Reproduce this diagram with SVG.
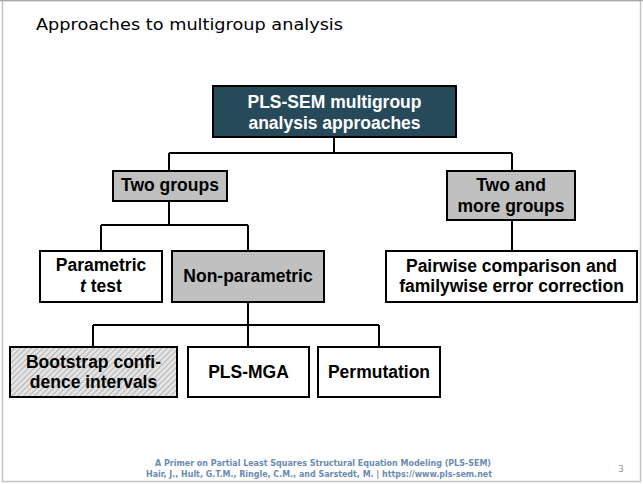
<svg xmlns="http://www.w3.org/2000/svg" width="643" height="484" viewBox="0 0 643 484">
<style>
.box{stroke:#000;stroke-width:2}
.white{fill:#fff}
.gray{fill:#c0c0c0}
.t{font-family:"Liberation Sans",Arial,sans-serif;font-weight:bold;font-size:17.5px;text-anchor:middle;fill:#000}
.w{fill:#fff}
.conn{fill:none;stroke:#000;stroke-width:2}
.foot{font-family:"DejaVu Sans",Verdana,sans-serif;font-weight:bold;font-size:8px;fill:#6a8bb0;text-anchor:middle}
</style>
<defs>
<pattern id="hatch" width="4" height="4" patternUnits="userSpaceOnUse" patternTransform="rotate(45)">
<rect width="4" height="4" fill="#e4e4e4"/>
<line x1="0" y1="0" x2="0" y2="4" stroke="#a8a8a8" stroke-width="1.6"/>
</pattern>
</defs>
<rect x="0" y="0" width="643" height="484" fill="#fff"/>
<rect x="2.5" y="0.5" width="638" height="481" fill="#fff" stroke="#c4c4c4" stroke-width="1.5"/>
<line x1="0" y1="0.5" x2="643" y2="0.5" stroke="#a8a8a8" stroke-width="1.5"/>
<text x="36" y="30" font-family="DejaVu Sans,Verdana,sans-serif" font-size="15.5" fill="#000" textLength="307" lengthAdjust="spacingAndGlyphs">Approaches to multigroup analysis</text>

<g id="connectors">
<path class="conn" d="M334,137 V153 M169,153 H512 M169,153 V171 M512,153 V171"/>
<path class="conn" d="M169,201 V225 M101,225 H248 M101,225 V251 M248,225 V251"/>
<path class="conn" d="M512,220 V251"/>
<path class="conn" d="M248,302 V325 M93,325 H379 M93,325 V347 M248,325 V347 M379,325 V347"/>
</g>

<g id="root">
<rect class="box" x="213" y="86" width="243" height="51" fill="#274a5b"/>
<text class="t w" x="334.5" y="108">PLS-SEM multigroup</text>
<text class="t w" x="334.5" y="129">analysis approaches</text>
</g>
<g id="two-groups">
<rect class="box gray" x="113" y="171" width="114" height="30"/>
<text class="t" x="170" y="191">Two groups</text>
</g>
<g id="two-more">
<rect class="box gray" x="447" y="171" width="128" height="49"/>
<text class="t" x="511" y="191">Two and</text>
<text class="t" x="511" y="212">more groups</text>
</g>
<g id="parametric">
<rect class="box white" x="40" y="251" width="122" height="51"/>
<text class="t" x="101" y="271">Parametric</text>
<text class="t" x="101" y="292"><tspan font-style="italic">t</tspan> test</text>
</g>
<g id="nonparametric">
<rect class="box gray" x="172" y="251" width="152" height="51"/>
<text class="t" x="248" y="282">Non-parametric</text>
</g>
<g id="pairwise">
<rect class="box white" x="386" y="251" width="251" height="51"/>
<text class="t" x="511.5" y="272">Pairwise comparison and</text>
<text class="t" x="511.5" y="292">familywise error correction</text>
</g>
<g id="bootstrap">
<rect class="box" x="10" y="347" width="167" height="50" fill="url(#hatch)"/>
<text class="t" x="93.5" y="368">Bootstrap confi-</text>
<text class="t" x="93.5" y="388">dence intervals</text>
</g>
<g id="plsmga">
<rect class="box white" x="188" y="347" width="121" height="50"/>
<text class="t" x="248.5" y="378">PLS-MGA</text>
</g>
<g id="permutation">
<rect class="box white" x="318" y="347" width="122" height="50"/>
<text class="t" x="379" y="378">Permutation</text>
</g>

<text class="foot" x="323" y="466" textLength="336" lengthAdjust="spacingAndGlyphs">A Primer on Partial Least Squares Structural Equation Modeling (PLS-SEM)</text>
<text class="foot" x="319" y="477" textLength="346" lengthAdjust="spacingAndGlyphs">Hair, J., Hult, G.T.M., Ringle, C.M., and Sarstedt, M. | https://www.pls-sem.net</text>
<text x="621" y="472" font-family="DejaVu Sans,Verdana,sans-serif" font-size="8" fill="#8a8a8a" text-anchor="middle">3</text>
</svg>
